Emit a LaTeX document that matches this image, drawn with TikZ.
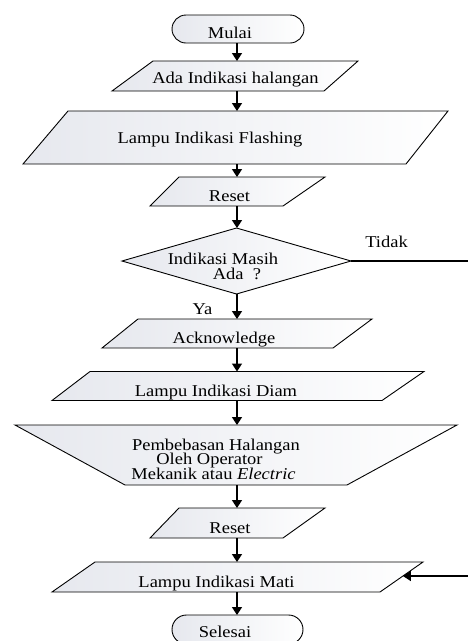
\documentclass[tikz,border=0pt]{standalone}
\usepackage{fontspec}
\usepackage{graphicx}
\setmainfont{Liberation Serif}
\usetikzlibrary{arrows.meta,calc}
\definecolor{shadeL}{RGB}{230,232,238}

\tikzset{
  box/.style 2 args={inner sep=0pt,outer sep=0pt,minimum width=#1pt,minimum height=#2pt},
  outline/.style={draw=black,line width=0.9pt,left color=shadeL,right color=white},
  term/.style 2 args={box={#1}{#2},outline,rounded corners=#2/2*1pt},
  txt/.style={anchor=base,inner sep=0pt,font=\fontsize{16.5}{14.5}\selectfont},
  conn/.style={line width=1.6pt},
  arr/.style={conn,-{Triangle[length=8pt,width=10pt]}},
}

% labels are set slightly wide
\newcommand\wide[1]{\scalebox{1.12}[1]{#1}}

% parallelogram on a box node: #1 name, #2 top-left inset, #3 bottom-right inset
\newcommand\drawpara[3]{%
  \path[outline] ($(#1.north west)+(#2,0)$) -- (#1.north east)
    -- ($(#1.south east)-(#3,0)$) -- (#1.south west) -- cycle;}

% text line whose descenders are cut just below the baseline
\newcommand\cliptxt[4]{%
  \begin{scope}
    \clip (0,#3-22) rectangle (468,#3+3.5);
    \node[txt] (#1) at (#2,#3) {\wide{#4}};
  \end{scope}}

\begin{document}
\begin{tikzpicture}[x=1pt,y=-1pt]
\useasboundingbox (0,0) rectangle (468,641);
\coordinate (axis) at (237,0);

% shapes
\node[term={132}{28}] (mulai) at (238,29) {};
\node[box={246}{30}] (ada) at (235,76) {};
\drawpara{ada}{41}{34}
\node[box={425}{53}] (flash) at (235.5,137.5) {};
\drawpara{flash}{45}{42}
\node[box={175}{29}] (reset1) at (237.5,191.5) {};
\drawpara{reset1}{29}{42}
\node[box={229}{66}] (dia) at (236.5,261) {};
\path[outline] (dia.north) -- (dia.east) -- (dia.south) -- (dia.west) -- cycle;
\node[box={270}{29}] (ack) at (237,333.5) {};
\drawpara{ack}{36}{39}
\node[box={372}{29}] (diam) at (238,386) {};
\drawpara{diam}{38}{42}
\node[box={442}{60}] (op) at (236,455) {};
\path[outline] (op.north west) -- (op.north east)
  -- ($(op.south east)-(110,0)$) -- ($(op.south west)+(110,0)$) -- cycle;
\node[box={175}{30}] (reset2) at (237.5,523) {};
\drawpara{reset2}{29}{42}
\node[box={371}{30}] (mati) at (237.5,577) {};
\drawpara{mati}{43}{43}
\node[term={131}{29}] (selesai) at (237.5,629.5) {};

% texts
\cliptxt{tMulai}{230}{38}{Mulai}
\cliptxt{tAda}{235.5}{83}{Ada Indikasi halangan}
\cliptxt{tFlash}{210}{143.5}{Lampu Indikasi Flashing}
\cliptxt{tReset1}{229.5}{201.5}{Reset}
\node[txt] (tDia1) at (223,264) {\wide{Indikasi Masih}};
\node[txt] (tDia2) at (237,279) {\wide{Ada \ ?}};
\node[txt] (tTidak) at (386.5,247) {\wide{Tidak}};
\node[txt] (tYa) at (202.5,314) {\wide{Ya}};
\cliptxt{tAck}{224}{343.5}{Acknowledge}
\cliptxt{tDiam}{216}{396.5}{Lampu Indikasi Diam}
\cliptxt{tOp1}{216}{450}{Pembebasan Halangan}
\cliptxt{tOp2}{209.5}{464.5}{Oleh Operator}
\cliptxt{tOp3}{213.5}{479}{Mekanik atau \textit{Electric}}
\cliptxt{tReset2}{230}{533}{Reset}
\cliptxt{tMati}{216.5}{587}{Lampu Indikasi Mati}
\node[txt] (tSelesai) at (225,637) {\wide{Selesai}};

% connectors
\draw[arr] (mulai.south -| axis) -- (ada.north -| axis);
\draw[arr] (ada.south -| axis) -- (flash.north -| axis);
\draw[arr] (flash.south -| axis) -- (reset1.north -| axis);
\draw[arr] (reset1.south -| axis) -- (dia.north -| axis);
\draw[arr] (dia.south -| axis) -- (ack.north -| axis);
\draw[arr] (ack.south -| axis) -- (diam.north -| axis);
\draw[arr] (diam.south -| axis) -- (op.north -| axis);
\draw[arr] (op.south -| axis) -- (reset2.north -| axis);
\draw[arr] (reset2.south -| axis) -- (mati.north -| axis);
\draw[arr] (mati.south -| axis) -- (selesai.north -| axis);

% "Tidak" branch leaving on the right and coming back into the last lamp box
\coordinate (tidakEnd) at (468,261);
\coordinate (backStart) at (468,576);
\coordinate (matiIn) at ($(mati.north east)!0.467!($(mati.south east)-(43,0)$)$);
\draw[conn] (dia.east) -- (tidakEnd);
\draw[arr] (backStart) -- (matiIn);
\end{tikzpicture}
\end{document}
